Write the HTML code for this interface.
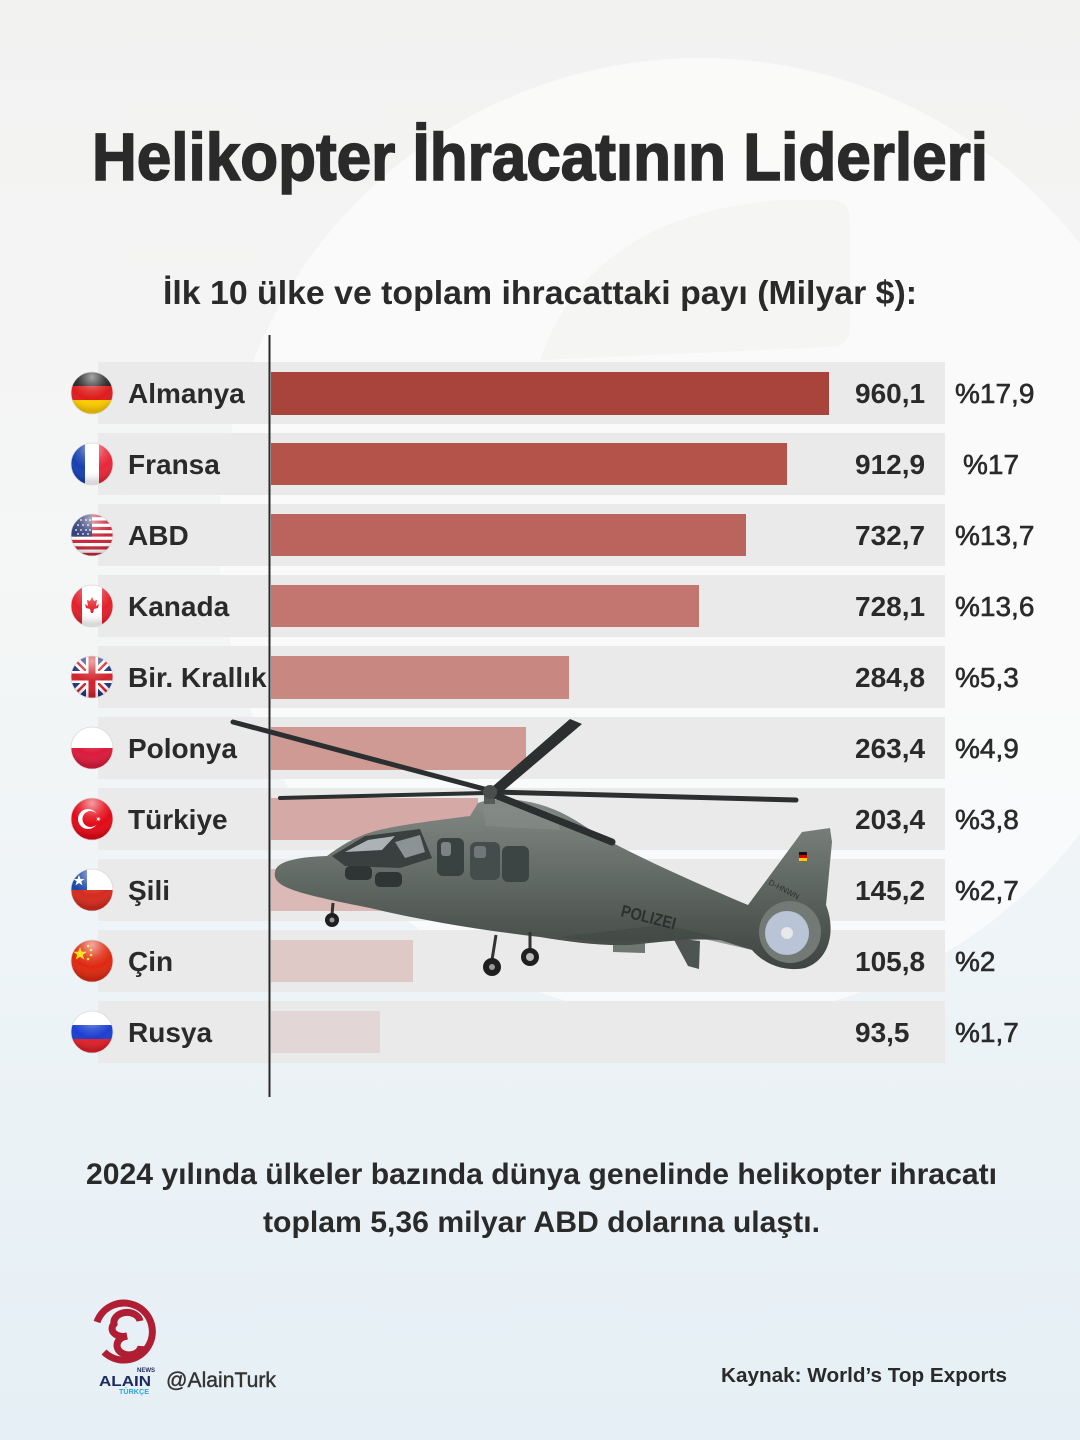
<!DOCTYPE html>
<html><head><meta charset="utf-8">
<style>
html,body{margin:0;padding:0;background:#f3f3f2;}
body{width:1080px;height:1440px;overflow:hidden;}
svg{display:block;}
text{font-family:"Liberation Sans",Arial,sans-serif;fill:#2a2a2a;}
</style></head><body>
<svg width="1080" height="1440" viewBox="0 0 1080 1440" xmlns="http://www.w3.org/2000/svg">
<defs>
<linearGradient id="bg" x1="0" y1="0" x2="0" y2="1">
 <stop offset="0" stop-color="#f2f2f1"/>
 <stop offset="0.4" stop-color="#f5f6f6"/>
 <stop offset="0.65" stop-color="#eef4f7"/>
 <stop offset="1" stop-color="#e5eff5"/>
</linearGradient>
<radialGradient id="gloss" cx="0.5" cy="0.12" r="0.8">
 <stop offset="0" stop-color="#fff" stop-opacity="0.6"/>
 <stop offset="0.4" stop-color="#fff" stop-opacity="0.15"/>
 <stop offset="0.65" stop-color="#fff" stop-opacity="0"/>
 <stop offset="1" stop-color="#000" stop-opacity="0.15"/>
</radialGradient>
<clipPath id="fc"><circle cx="0" cy="0" r="21"/></clipPath>
<linearGradient id="fus" x1="0" y1="0" x2="0" y2="1">
 <stop offset="0" stop-color="#838a85"/>
 <stop offset="0.45" stop-color="#636b66"/>
 <stop offset="1" stop-color="#3d4441"/>
</linearGradient>
</defs>

<!-- background -->
<rect x="0" y="0" width="1080" height="1440" fill="url(#bg)"/>
<circle cx="700" cy="539" r="481" fill="#fcfcfc" opacity="0.7"/>
<path d="M540 360 Q590 215 780 200 L830 200 Q850 200 850 220 L850 327 Q850 347 830 347 Z" fill="#f1f1f0" opacity="0.6"/>

<!-- title -->
<text x="92" y="180" font-size="67" font-weight="bold" textLength="896" lengthAdjust="spacingAndGlyphs" stroke="#2a2a2a" stroke-width="1.6">Helikopter İhracatının Liderleri</text>
<text x="163" y="304" font-size="33" font-weight="bold" textLength="754" lengthAdjust="spacingAndGlyphs">İlk 10 ülke ve toplam ihracattaki payı (Milyar $):</text>

<!-- rows -->
<g>
 <rect x="98" y="362" width="847" height="62" fill="#eaeaea"/>
 <rect x="98" y="433" width="847" height="62" fill="#eaeaea"/>
 <rect x="98" y="504" width="847" height="62" fill="#eaeaea"/>
 <rect x="98" y="575" width="847" height="62" fill="#eaeaea"/>
 <rect x="98" y="646" width="847" height="62" fill="#eaeaea"/>
 <rect x="98" y="717" width="847" height="62" fill="#eaeaea"/>
 <rect x="98" y="788" width="847" height="62" fill="#eaeaea"/>
 <rect x="98" y="859" width="847" height="62" fill="#eaeaea"/>
 <rect x="98" y="930" width="847" height="62" fill="#eaeaea"/>
 <rect x="98" y="1001" width="847" height="62" fill="#eaeaea"/>
</g>
<!-- bars -->
<g>
 <rect x="271" y="372" width="558" height="43" fill="#a8443b"/>
 <rect x="271" y="443" width="516" height="42" fill="#b3534a"/>
 <rect x="271" y="514" width="475" height="42" fill="#ba645d"/>
 <rect x="271" y="585" width="428" height="42" fill="#c2766f"/>
 <rect x="271" y="656" width="298" height="43" fill="#c88780"/>
 <rect x="271" y="727" width="255" height="43" fill="#cf9a94"/>
 <rect x="271" y="798" width="207" height="42" fill="#d5aaa6"/>
 <rect x="271" y="869" width="169" height="42" fill="#dab9b6"/>
 <rect x="271" y="940" width="142" height="42" fill="#dfc9c7"/>
 <rect x="271" y="1011" width="109" height="42" fill="#e3d6d6"/>
</g>
<line x1="269.5" y1="335" x2="269.5" y2="1097" stroke="#2a2a2a" stroke-width="2"/>

<!-- labels -->
<g font-size="28" font-weight="bold">
 <text x="128" y="403">Almanya</text>
 <text x="128" y="474">Fransa</text>
 <text x="128" y="545">ABD</text>
 <text x="128" y="616">Kanada</text>
 <text x="128" y="687">Bir. Krallık</text>
 <text x="128" y="758">Polonya</text>
 <text x="128" y="829">Türkiye</text>
 <text x="128" y="900">Şili</text>
 <text x="128" y="971">Çin</text>
 <text x="128" y="1042">Rusya</text>
</g>
<g font-size="28" font-weight="bold">
 <text x="855" y="403">960,1</text>
 <text x="855" y="474">912,9</text>
 <text x="855" y="545">732,7</text>
 <text x="855" y="616">728,1</text>
 <text x="855" y="687">284,8</text>
 <text x="855" y="758">263,4</text>
 <text x="855" y="829">203,4</text>
 <text x="855" y="900">145,2</text>
 <text x="855" y="971">105,8</text>
 <text x="855" y="1042">93,5</text>
</g>
<g font-size="28" stroke="#2a2a2a" stroke-width="0.6">
 <text x="955" y="403">%17,9</text>
 <text x="963" y="474">%17</text>
 <text x="955" y="545">%13,7</text>
 <text x="955" y="616">%13,6</text>
 <text x="955" y="687">%5,3</text>
 <text x="955" y="758">%4,9</text>
 <text x="955" y="829">%3,8</text>
 <text x="955" y="900">%2,7</text>
 <text x="955" y="971">%2</text>
 <text x="955" y="1042">%1,7</text>
</g>

<!-- flags -->
<g transform="translate(92,393)">
 <g clip-path="url(#fc)">
  <rect x="-21" y="-21" width="42" height="14" fill="#1e1e1e"/>
  <rect x="-21" y="-7" width="42" height="14" fill="#dd1c1c"/>
  <rect x="-21" y="7" width="42" height="14" fill="#ffcc00"/>
 </g>
 <circle r="21" fill="url(#gloss)" stroke="#d8d8d8" stroke-width="0.8"/>
</g>
<g transform="translate(92,464)">
 <g clip-path="url(#fc)">
  <rect x="-21" y="-21" width="14" height="42" fill="#1740b0"/>
  <rect x="-7" y="-21" width="14" height="42" fill="#ffffff"/>
  <rect x="7" y="-21" width="14" height="42" fill="#e8283a"/>
 </g>
 <circle r="21" fill="url(#gloss)" stroke="#d8d8d8" stroke-width="0.8"/>
</g>
<g transform="translate(92,535)">
 <g clip-path="url(#fc)">
  <rect x="-21" y="-21" width="42" height="42" fill="#ffffff"/>
  <rect x="-21" y="-21" width="42" height="3.2" fill="#c8283a"/>
  <rect x="-21" y="-14.5" width="42" height="3.2" fill="#c8283a"/>
  <rect x="-21" y="-8.1" width="42" height="3.2" fill="#c8283a"/>
  <rect x="-21" y="-1.6" width="42" height="3.2" fill="#c8283a"/>
  <rect x="-21" y="4.8" width="42" height="3.2" fill="#c8283a"/>
  <rect x="-21" y="11.3" width="42" height="3.2" fill="#c8283a"/>
  <rect x="-21" y="17.8" width="42" height="3.2" fill="#c8283a"/>
  <rect x="-21" y="-21" width="21" height="22.6" fill="#33407a"/>
  <g fill="#fff">
   <circle cx="-16" cy="-15" r="0.9"/><circle cx="-11" cy="-15" r="0.9"/><circle cx="-6" cy="-15" r="0.9"/><circle cx="-2" cy="-15" r="0.9"/>
   <circle cx="-14" cy="-10" r="0.9"/><circle cx="-9" cy="-10" r="0.9"/><circle cx="-4" cy="-10" r="0.9"/>
   <circle cx="-16" cy="-5" r="0.9"/><circle cx="-11" cy="-5" r="0.9"/><circle cx="-6" cy="-5" r="0.9"/><circle cx="-2" cy="-5" r="0.9"/>
   <circle cx="-14" cy="-1" r="0.9"/><circle cx="-9" cy="-1" r="0.9"/><circle cx="-4" cy="-1" r="0.9"/>
  </g>
 </g>
 <circle r="21" fill="url(#gloss)" stroke="#d8d8d8" stroke-width="0.8"/>
</g>
<g transform="translate(92,606)">
 <g clip-path="url(#fc)">
  <rect x="-21" y="-21" width="42" height="42" fill="#ffffff"/>
  <rect x="-21" y="-21" width="11" height="42" fill="#e3202b"/>
  <rect x="10" y="-21" width="11" height="42" fill="#e3202b"/>
  <path d="M0 -9 L2 -5 L5 -6 L4 0 L7 -2 L6 2 L2 3 L1 7 L-1 7 L-2 3 L-6 2 L-7 -2 L-4 0 L-5 -6 L-2 -5 Z" fill="#e3202b"/>
 </g>
 <circle r="21" fill="url(#gloss)" stroke="#d8d8d8" stroke-width="0.8"/>
</g>
<g transform="translate(92,677)">
 <g clip-path="url(#fc)">
  <rect x="-21" y="-21" width="42" height="42" fill="#22357e"/>
  <line x1="-21" y1="-21" x2="21" y2="21" stroke="#fff" stroke-width="8"/>
  <line x1="21" y1="-21" x2="-21" y2="21" stroke="#fff" stroke-width="8"/>
  <line x1="-21" y1="-21" x2="21" y2="21" stroke="#d2232c" stroke-width="2.5"/>
  <line x1="21" y1="-21" x2="-21" y2="21" stroke="#d2232c" stroke-width="2.5"/>
  <rect x="-21" y="-6" width="42" height="12" fill="#fff"/>
  <rect x="-6" y="-21" width="12" height="42" fill="#fff"/>
  <rect x="-21" y="-3.5" width="42" height="7" fill="#d2232c"/>
  <rect x="-3.5" y="-21" width="7" height="42" fill="#d2232c"/>
 </g>
 <circle r="21" fill="url(#gloss)" stroke="#d8d8d8" stroke-width="0.8"/>
</g>
<g transform="translate(92,748)">
 <g clip-path="url(#fc)">
  <rect x="-21" y="-21" width="42" height="21" fill="#ffffff"/>
  <rect x="-21" y="0" width="42" height="21" fill="#dc1a3c"/>
 </g>
 <circle r="21" fill="url(#gloss)" stroke="#d8d8d8" stroke-width="0.8"/>
</g>
<g transform="translate(92,819)">
 <g clip-path="url(#fc)">
  <rect x="-21" y="-21" width="42" height="42" fill="#e30a17"/>
  <circle cx="-4" cy="0" r="10" fill="#fff"/>
  <circle cx="-1.5" cy="0" r="8" fill="#e30a17"/>
  <path d="M9 0 L4.2 1.6 L7.2 -2.4 L7.2 2.4 L4.2 -1.6 Z" fill="#fff"/>
 </g>
 <circle r="21" fill="url(#gloss)" stroke="#d8d8d8" stroke-width="0.8"/>
</g>
<g transform="translate(92,890)">
 <g clip-path="url(#fc)">
  <rect x="-21" y="-21" width="42" height="21" fill="#ffffff"/>
  <rect x="-21" y="0" width="42" height="21" fill="#d52b1e"/>
  <rect x="-21" y="-21" width="16" height="21" fill="#1a45a8"/>
  <path d="M-13 -15 L-11.5 -11 L-7.5 -11 L-10.7 -8.6 L-9.5 -4.6 L-13 -7 L-16.5 -4.6 L-15.3 -8.6 L-18.5 -11 L-14.5 -11 Z" fill="#fff"/>
 </g>
 <circle r="21" fill="url(#gloss)" stroke="#d8d8d8" stroke-width="0.8"/>
</g>
<g transform="translate(92,961)">
 <g clip-path="url(#fc)">
  <rect x="-21" y="-21" width="42" height="42" fill="#de2910"/>
  <path d="M-12 -14 L-10.2 -9.2 L-5.2 -9.2 L-9.2 -6.2 L-7.7 -1.4 L-12 -4.3 L-16.3 -1.4 L-14.8 -6.2 L-18.8 -9.2 L-13.8 -9.2 Z" fill="#ffde00"/>
  <circle cx="-4" cy="-15" r="1.3" fill="#ffde00"/>
  <circle cx="-1" cy="-11" r="1.3" fill="#ffde00"/>
  <circle cx="-1" cy="-6" r="1.3" fill="#ffde00"/>
  <circle cx="-4" cy="-2" r="1.3" fill="#ffde00"/>
 </g>
 <circle r="21" fill="url(#gloss)" stroke="#d8d8d8" stroke-width="0.8"/>
</g>
<g transform="translate(92,1032)">
 <g clip-path="url(#fc)">
  <rect x="-21" y="-21" width="42" height="14" fill="#ffffff"/>
  <rect x="-21" y="-7" width="42" height="14" fill="#1c3fd0"/>
  <rect x="-21" y="7" width="42" height="14" fill="#e0202a"/>
 </g>
 <circle r="21" fill="url(#gloss)" stroke="#d8d8d8" stroke-width="0.8"/>
</g>

<!-- helicopter -->
<g>
 <polygon points="673,938 700,941 699,969 688,966" fill="#4d5451"/>
 <polygon points="613,940 645,942 645,953 613,952" fill="#6f7773"/>
 <path d="M275 872 C276 862 295 857 327 856 C338 848 352 838 372 832 C392 826 430 821 470 816 L478 803 C495 796 530 798 560 812 C580 822 590 830 600 836 C640 858 700 885 748 905 L802 832 L830 828 L832 842 L826 905 C836 930 830 960 805 968 C785 972 765 965 752 950 L720 940 C690 938 660 942 630 945 C600 946 570 942 540 937 C480 930 420 920 370 908 C330 900 295 893 282 885 C276 881 274 877 275 872 Z" fill="url(#fus)"/>
 <path d="M482 806 C500 800 530 802 556 814 L560 830 L486 826 Z" fill="#858c87" opacity="0.7"/>
 <path d="M332 856 L365 836 L420 829 L432 858 L400 868 L345 866 Z" fill="#39403f"/>
 <path d="M345 852 L368 840 L395 836 L382 850 Z" fill="#c9d0d4" opacity="0.8"/>
 <path d="M395 842 L420 835 L425 852 L405 858 Z" fill="#aeb6bb" opacity="0.7"/>
 <rect x="345" y="866" width="27" height="14" rx="5" fill="#2f3535"/>
 <rect x="375" y="872" width="27" height="15" rx="5" fill="#2f3535"/>
 <rect x="437" y="838" width="27" height="38" rx="6" fill="#3a4141"/>
 <rect x="470" y="842" width="30" height="38" rx="6" fill="#454c4c"/>
 <rect x="502" y="846" width="27" height="36" rx="6" fill="#3d4444"/>
 <rect x="441" y="842" width="10" height="14" rx="3" fill="#a7afb2" opacity="0.6"/>
 <rect x="474" y="846" width="12" height="12" rx="3" fill="#9aa2a6" opacity="0.5"/>
 <path d="M560 937 C600 944 650 942 700 938 L752 950 C740 946 700 930 660 925 Z" fill="#3e4542" opacity="0.5"/>
 <text x="620" y="916" font-size="17" font-weight="bold" transform="rotate(14 620 916)" style="fill:#2c3130" textLength="56" lengthAdjust="spacingAndGlyphs">POLIZEI</text>
 <rect x="799" y="852" width="8" height="3" fill="#111"/>
 <rect x="799" y="855" width="8" height="3" fill="#d00"/>
 <rect x="799" y="858" width="8" height="3" fill="#fc0"/>
 <text x="768" y="884" font-size="8" transform="rotate(28 768 884)" style="fill:#2c3130">D-HNWN</text>
 <circle cx="790" cy="932" r="31" fill="#737a76"/>
 <circle cx="787" cy="933" r="22" fill="#b9c4d6"/>
 <circle cx="787" cy="933" r="6" fill="#e6e8ea"/>
 <line x1="333" y1="903" x2="332" y2="915" stroke="#333" stroke-width="3"/>
 <circle cx="332" cy="920" r="7" fill="#1f1f1f"/>
 <circle cx="332" cy="920" r="2.5" fill="#999"/>
 <line x1="496" y1="935" x2="492" y2="960" stroke="#333" stroke-width="3"/>
 <circle cx="492" cy="967" r="9" fill="#1f1f1f"/>
 <circle cx="492" cy="967" r="3" fill="#999"/>
 <line x1="530" y1="932" x2="530" y2="950" stroke="#333" stroke-width="3"/>
 <circle cx="530" cy="957" r="9" fill="#1f1f1f"/>
 <circle cx="530" cy="957" r="4" fill="#bbb"/>
 <rect x="484" y="790" width="11" height="14" fill="#555c59"/>
 <line x1="233" y1="722" x2="488" y2="790" stroke="#2c2f2f" stroke-width="5" stroke-linecap="round"/>
 <line x1="280" y1="798" x2="485" y2="793" stroke="#2c2f2f" stroke-width="4" stroke-linecap="round"/>
 <line x1="495" y1="792" x2="796" y2="800" stroke="#2c2f2f" stroke-width="5" stroke-linecap="round"/>
 <polygon points="492,787 570,719 582,724 502,792" fill="#2c2f2f"/>
 <line x1="495" y1="795" x2="612" y2="842" stroke="#2c2f2f" stroke-width="7" stroke-linecap="round"/>
 <circle cx="490" cy="792" r="7" fill="#4a4f4d"/>
</g>

<!-- bottom text -->
<text x="86" y="1184" font-size="30" font-weight="bold" textLength="911" lengthAdjust="spacingAndGlyphs">2024 yılında ülkeler bazında dünya genelinde helikopter ihracatı</text>
<text x="263" y="1232" font-size="30" font-weight="bold" textLength="557" lengthAdjust="spacingAndGlyphs">toplam 5,36 milyar ABD dolarına ulaştı.</text>

<!-- logo -->
<g fill="none" stroke="#b01e34" stroke-width="7" stroke-linecap="butt">
 <path d="M97 1322 A28.5 28.5 0 1 1 104 1352"/>
 <path d="M140 1321 A13 10 0 0 0 114 1324 A11 8 0 0 0 127 1336"/>
 <path d="M127 1336 A12 9.5 0 1 0 141 1346"/>
</g>
<text x="137" y="1372" font-size="6" font-weight="bold" style="fill:#1e2a5e">NEWS</text>
<text x="99" y="1386" font-size="15" font-weight="bold" style="fill:#1e2a5e" textLength="52" lengthAdjust="spacingAndGlyphs">ALAIN</text>
<text x="119" y="1394" font-size="7" font-weight="bold" style="fill:#2aa7dc" textLength="30" lengthAdjust="spacingAndGlyphs">TÜRKÇE</text>
<text x="166" y="1387" font-size="21" stroke="#333" stroke-width="0.4" style="fill:#333" textLength="110" lengthAdjust="spacingAndGlyphs">@AlainTurk</text>
<text x="721" y="1382" font-size="20" font-weight="bold" textLength="286" lengthAdjust="spacingAndGlyphs">Kaynak: World’s Top Exports</text>
</svg>
</body></html>
